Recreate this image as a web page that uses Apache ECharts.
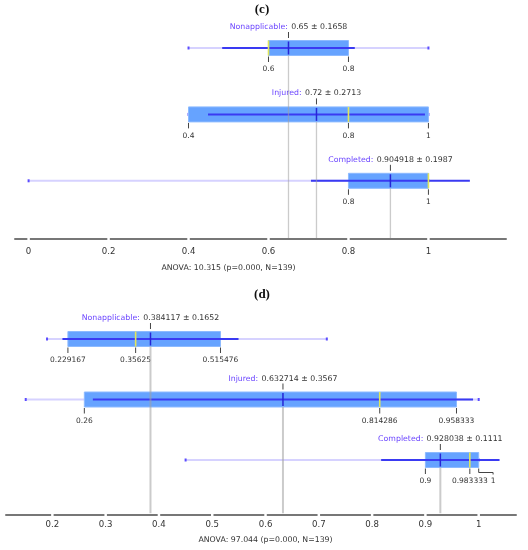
<!DOCTYPE html>
<html>
<head>
<meta charset="utf-8">
<script src="https://cdn.jsdelivr.net/npm/echarts@6/dist/echarts.min.js"></script>
<style>html,body{margin:0;padding:0;background:#fff}#chart{width:528px;height:550px}</style>
</head>
<body>
<div id="chart"></div>
<script>
// ---------- data ----------
const categories = ['Nonapplicable', 'Injured', 'Completed'];
const panelTitles = ['(c)', '(d)'];

// panel (c)
const cMin    = [0.4, 0.4, 0];
const cQ1     = [0.6, 0.4, 0.8];
const cMedian = [0.6, 0.8, 1];
const cQ3     = [0.8, 1, 1];
const cMax    = [1, 1, 1];
const cMean   = [0.65, 0.72, 0.904918];
const cStd    = [0.1658, 0.2713, 0.1987];
const cTicks  = [0, 0.2, 0.4, 0.6, 0.8, 1];
const cAnova  = 'ANOVA: 10.315 (p=0.000, N=139)';

// panel (d)
const dMin    = [0.19, 0.15, 0.45];
const dQ1     = [0.229167, 0.26, 0.9];
const dMedian = [0.35625, 0.814286, 0.983333];
const dQ3     = [0.515476, 0.958333, 1];
const dMax    = [0.715, 1, 1];
const dMean   = [0.384117, 0.632714, 0.928038];
const dStd    = [0.1652, 0.3567, 0.1111];
const dTicks  = [0.2, 0.3, 0.4, 0.5, 0.6, 0.7, 0.8, 0.9, 1];
const dAnova  = 'ANOVA: 97.044 (p=0.000, N=139)';

// ---------- helpers ----------
const FONT = "'DejaVu Sans', Verdana, sans-serif";
const measureCtx = document.createElement('canvas').getContext('2d');
function textW(s, size) { measureCtx.font = size + 'px ' + FONT; return measureCtx.measureText(s).width; }

function rows(mn, q1, md, q3, mx, mean, sd) {
  return categories.map((c, i) => [i, mn[i], q1[i], md[i], q3[i], mx[i], mean[i], sd[i]]);
}

const BOX_H = 15;

function renderBox(params, api) {
  const i = api.value(0), mn = api.value(1), q1 = api.value(2), md = api.value(3),
        q3 = api.value(4), mx = api.value(5), mean = api.value(6), sd = api.value(7);
  const X = v => api.coord([v, i])[0];
  const yc = api.coord([mean, i])[1];
  const top = yc - BOX_H / 2, bot = yc + BOX_H / 2;
  const ch = [];
  // min-max light line
  ch.push({type: 'line', shape: {x1: X(mn), y1: yc, x2: X(mx), y2: yc}, style: {stroke: '#d6d2ff', lineWidth: 2}});
  ch.push({type: 'rect', shape: {x: X(mn) - 1, y: yc - 1.5, width: 2, height: 3}, style: {fill: '#5b4cff'}});
  ch.push({type: 'rect', shape: {x: X(mx) - 1, y: yc - 1.5, width: 2, height: 3}, style: {fill: '#5b4cff'}});
  // box
  ch.push({type: 'rect', shape: {x: X(q1), y: top, width: X(q3) - X(q1), height: BOX_H},
           style: {fill: '#66a3ff', stroke: '#8dbaff', lineWidth: 1}});
  // mean +- std
  ch.push({type: 'line', shape: {x1: X(mean - sd), y1: yc, x2: X(mean + sd), y2: yc}, style: {stroke: '#3a3af2', lineWidth: 2}});
  // median
  ch.push({type: 'line', shape: {x1: X(md), y1: top, x2: X(md), y2: bot}, style: {stroke: '#e2e65a', lineWidth: 1.6}});
  // mean marker
  ch.push({type: 'line', shape: {x1: X(mean), y1: top + 1, x2: X(mean), y2: bot - 1}, style: {stroke: '#2626d6', lineWidth: 1.5}});
  // tick above at mean
  ch.push({type: 'line', shape: {x1: X(mean), y1: top - 8.5, x2: X(mean), y2: top - 2.5}, style: {stroke: '#444', lineWidth: 1}});
  // label
  ch.push({type: 'text', style: {
    text: '{a|' + categories[i] + ':} {b|' + String(mean) + ' \u00b1 ' + String(sd) + '}',
    x: X(mean), y: top - 13.5, align: 'center', verticalAlign: 'middle',
    rich: {a: {fill: '#6a44ff', fontSize: 7.8, fontFamily: FONT}, b: {fill: '#333', fontSize: 7.8, fontFamily: FONT}}
  }});
  // value labels below
  const vals = Array.from(new Set([q1, md, q3])).sort((a, b) => a - b);
  let prevRight = -Infinity;
  vals.forEach(v => {
    const s = String(v);
    const w = textW(s, 7.5);
    const x = X(v);
    let lx = x;
    if (x - w / 2 < prevRight + 3) {
      lx = prevRight + 3 + w / 2;
      ch.push({type: 'polyline', shape: {points: [[x, bot + 1], [x, bot + 5], [lx, bot + 5], [lx, bot + 7]]},
               style: {stroke: '#444', lineWidth: 1, fill: null}});
    } else {
      ch.push({type: 'line', shape: {x1: x, y1: bot + 1, x2: x, y2: bot + 6.5}, style: {stroke: '#444', lineWidth: 1}});
    }
    ch.push({type: 'text', style: {text: s, x: lx, y: bot + 14, align: 'center', verticalAlign: 'middle',
             fill: '#333', fontSize: 7.5, fontFamily: FONT}});
    prevRight = lx + w / 2;
  });
  return {type: 'group', children: ch};
}

function makeMeanLineRenderer(offset, width) {
  return function (params, api) {
    const i = api.value(0), mean = api.value(6);
    const p = api.coord([mean, i]);
    const axisY = params.coordSys.y + params.coordSys.height + offset;
    return {type: 'line', shape: {x1: p[0], y1: p[1] + BOX_H / 2, x2: p[0], y2: axisY - 1},
            style: {stroke: 'rgba(160,160,160,0.55)', lineWidth: width}};
  };
}

// small white gaps in the axis line at every tick value
function makeGapRenderer(offset) {
  return function (params, api) {
    const x = api.coord([api.value(0), api.value(1)])[0];
    const axisY = params.coordSys.y + params.coordSys.height + offset;
    return {type: 'rect', shape: {x: x - 1.25, y: axisY - 3, width: 2.5, height: 6}, style: {fill: '#fff'}};
  };
}

const OFF_C = 25, OFF_D = 24;
const cRange = {min: -0.034, max: 1.194};
const dRange = {min: 0.113, max: 1.07};

function mainAxis(grid, range, ticks, offset, margin) {
  return {
    gridIndex: grid, type: 'value', min: range.min, max: range.max, position: 'bottom', offset: offset,
    axisLine: {show: true, lineStyle: {color: '#777', width: 2}},
    axisTick: {show: false},
    axisLabel: {show: true, customValues: ticks, margin: margin, color: '#333', fontSize: 8.6, fontFamily: FONT,
                formatter: v => String(v)},
    splitLine: {show: false}
  };
}

const cRows = rows(cMin, cQ1, cMedian, cQ3, cMax, cMean, cStd);
const dRows = rows(dMin, dQ1, dMedian, dQ3, dMax, dMean, dStd);

const chart = echarts.init(document.getElementById('chart'), null, {renderer: 'canvas'});
const option = {
  animation: false,
  backgroundColor: '#fff',
  grid: [
    {left: 15, right: 22, top: 14.8, height: 199.2},
    {left: 6, right: 12, top: 308.75, height: 181.5}
  ],
  xAxis: [
    mainAxis(0, cRange, cTicks, OFF_C, 8),
    mainAxis(1, dRange, dTicks, OFF_D, 6.5)
  ],
  yAxis: [
    {gridIndex: 0, type: 'category', data: categories, inverse: true, show: false},
    {gridIndex: 1, type: 'category', data: categories, inverse: true, show: false}
  ],
  series: [
    {type: 'custom', xAxisIndex: 0, yAxisIndex: 0, data: cRows, renderItem: renderBox,
     encode: {y: 0, x: [1, 5]}, z: 2},
    {type: 'custom', xAxisIndex: 1, yAxisIndex: 1, data: dRows, renderItem: renderBox,
     encode: {y: 0, x: [1, 5]}, z: 2},
    {type: 'custom', xAxisIndex: 0, yAxisIndex: 0, data: cRows, renderItem: makeMeanLineRenderer(OFF_C, 1.3),
     encode: {y: 0, x: 6}, z: 3, silent: true},
    {type: 'custom', xAxisIndex: 1, yAxisIndex: 1, data: dRows, renderItem: makeMeanLineRenderer(OFF_D, 2),
     encode: {y: 0, x: 6}, z: 3, silent: true},
    {type: 'custom', xAxisIndex: 0, yAxisIndex: 0, data: cTicks.map(v => [v, 0]), renderItem: makeGapRenderer(OFF_C),
     encode: {x: 0, y: 1}, z: 5, silent: true, clip: false},
    {type: 'custom', xAxisIndex: 1, yAxisIndex: 1, data: dTicks.map(v => [v, 0]), renderItem: makeGapRenderer(OFF_D),
     encode: {x: 0, y: 1}, z: 5, silent: true, clip: false}
  ]
};
chart.setOption(option);

// annotations positioned from the axes
function midPx(axisIndex, ticks) {
  const mid = (ticks[0] + ticks[ticks.length - 1]) / 2;
  return chart.convertToPixel({xAxisIndex: axisIndex}, mid);
}
chart.setOption({
  graphic: [
    {type: 'text', x: 262, y: 10, style: {text: panelTitles[0], align: 'center', verticalAlign: 'middle',
      fill: '#111', font: "bold 13px 'Liberation Serif', 'Times New Roman', serif"}},
    {type: 'text', x: 262, y: 295, style: {text: panelTitles[1], align: 'center', verticalAlign: 'middle',
      fill: '#111', font: "bold 13px 'Liberation Serif', 'Times New Roman', serif"}},
    {type: 'text', x: midPx(0, cTicks), y: 268, style: {text: cAnova, align: 'center', verticalAlign: 'middle',
      fill: '#333', fontSize: 7.8, fontFamily: FONT}},
    {type: 'text', x: midPx(1, dTicks), y: 540, style: {text: dAnova, align: 'center', verticalAlign: 'middle',
      fill: '#333', fontSize: 7.8, fontFamily: FONT}}
  ]
});
</script>
</body>
</html>
